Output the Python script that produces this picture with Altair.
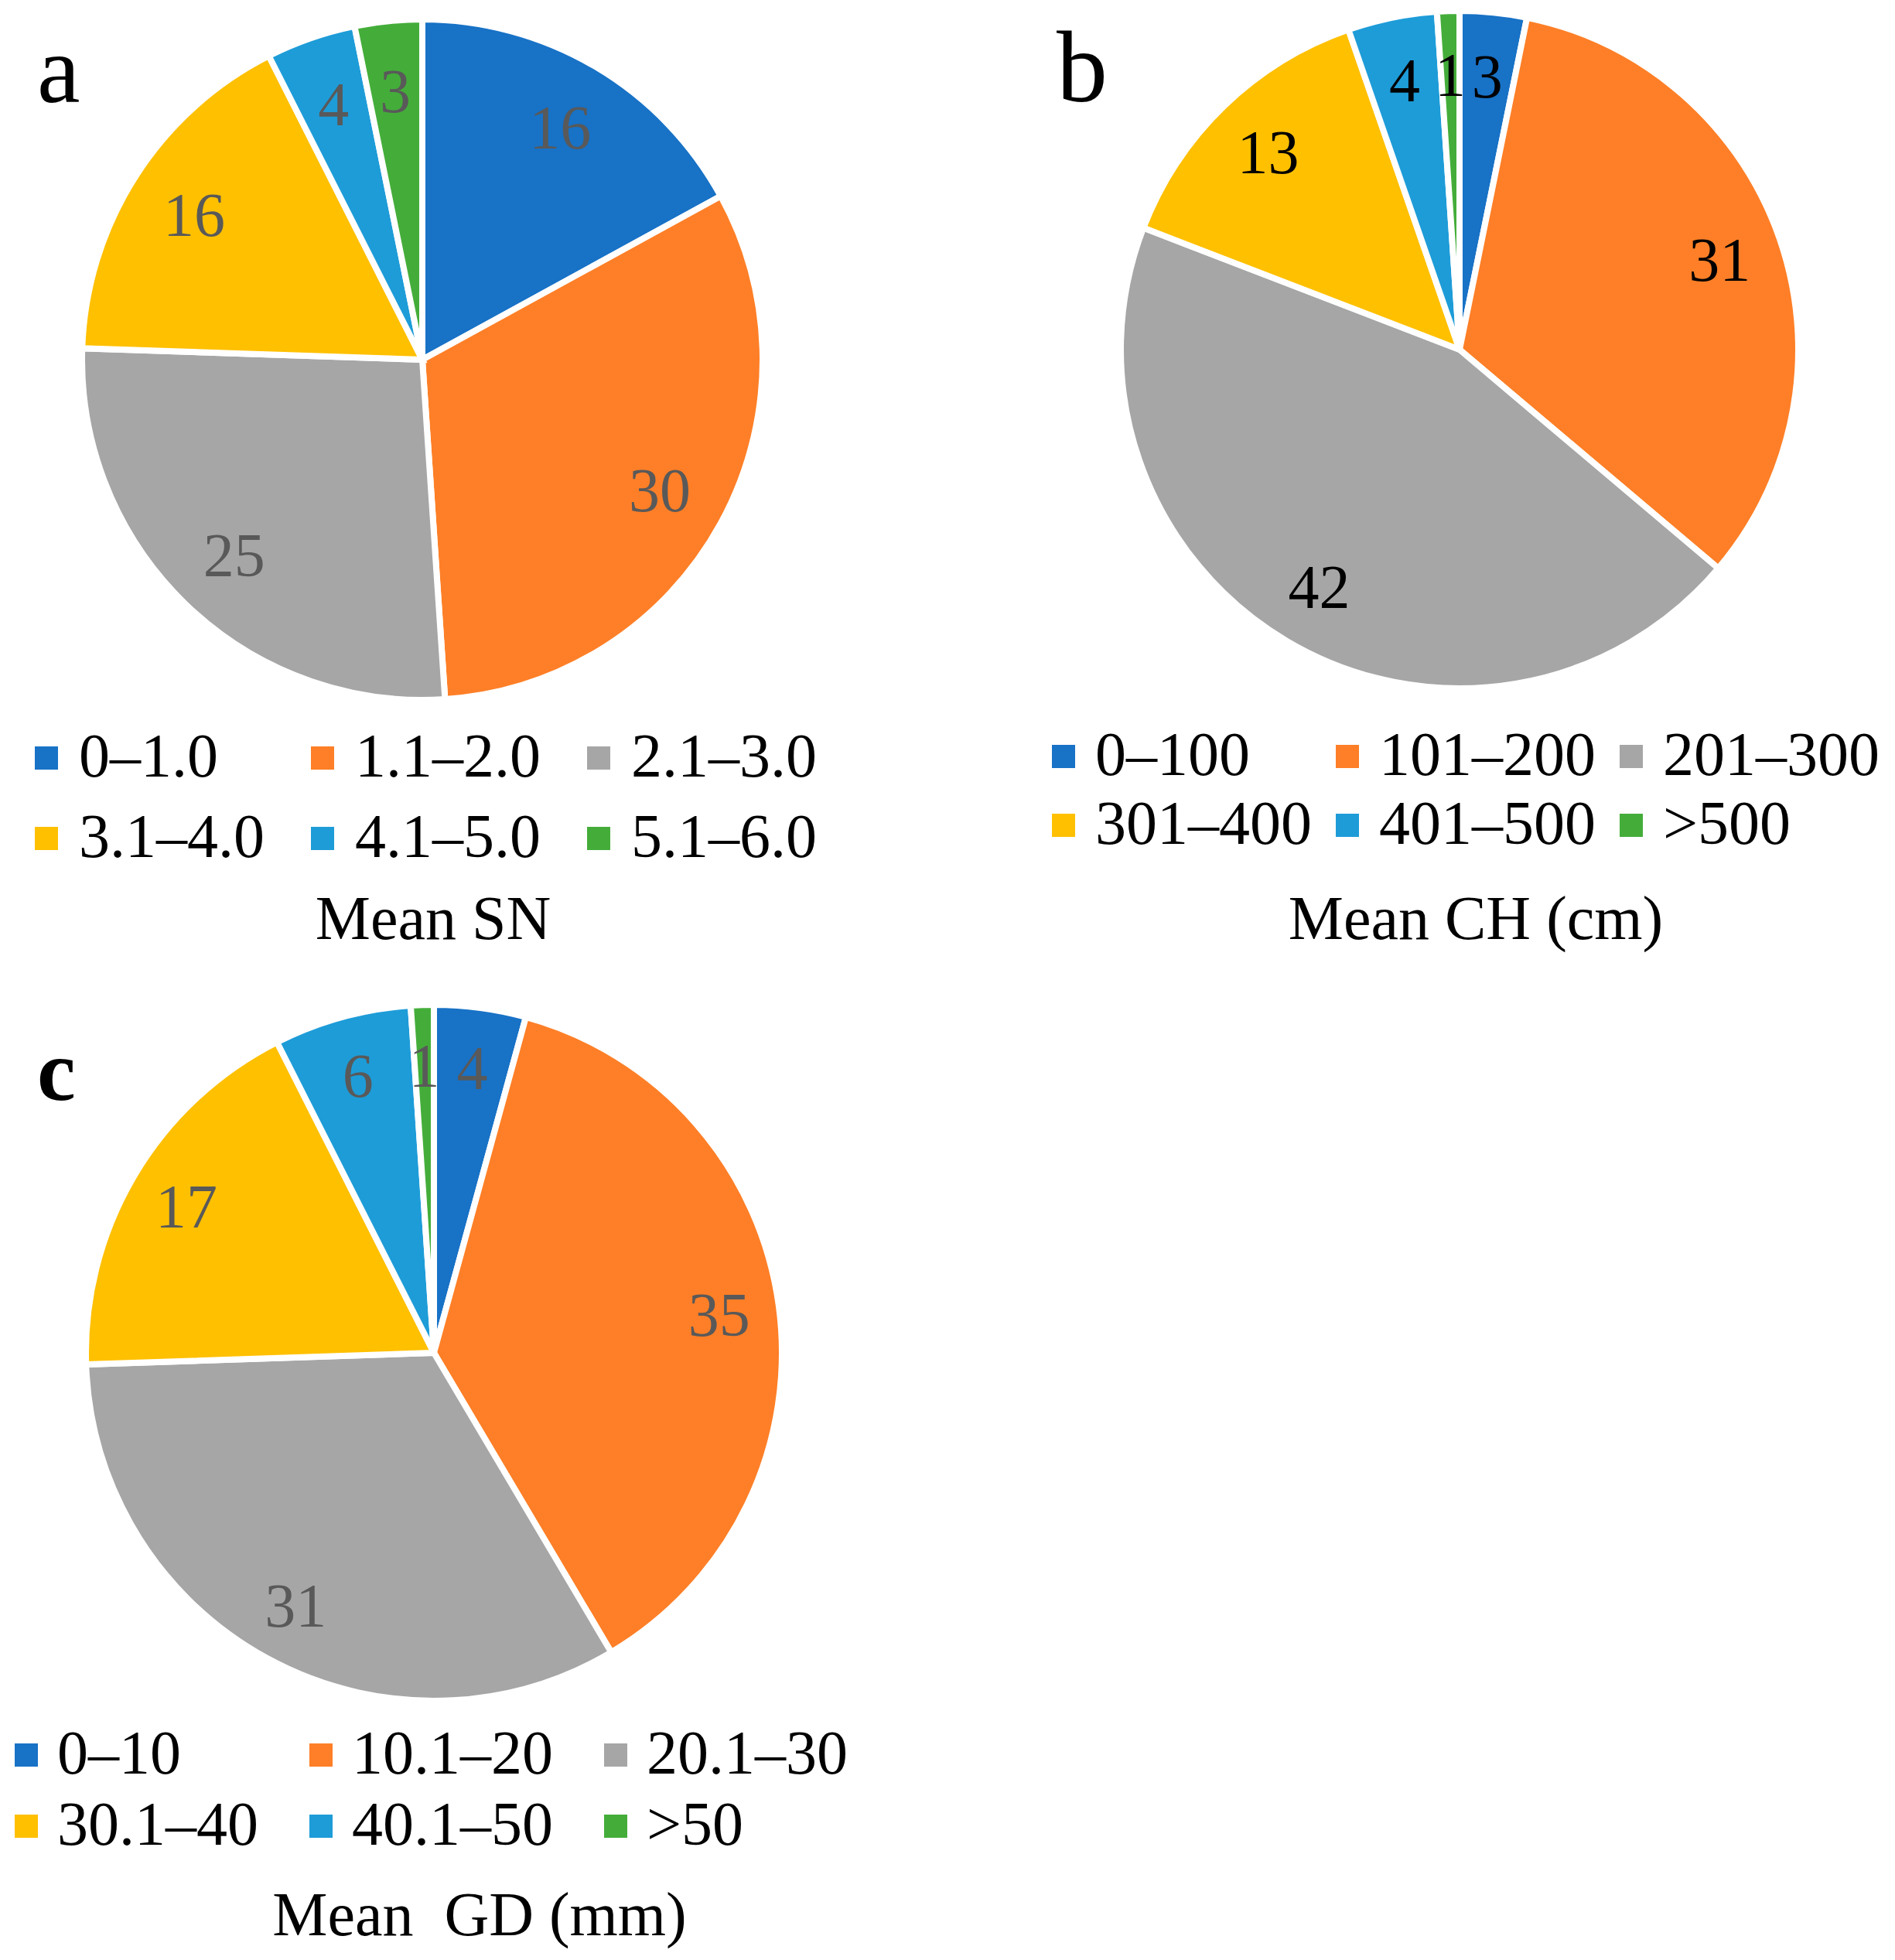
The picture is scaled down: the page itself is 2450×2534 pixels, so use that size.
import altair as alt
import pandas as pd

colors = ["#1872C6", "#FE7F27", "#A6A6A6", "#FFC000", "#1E9CD8", "#44AD3A"]

a_cats = ["0–1.0", "1.1–2.0", "2.1–3.0", "3.1–4.0", "4.1–5.0", "5.1–6.0"]
a_vals = [16, 30, 25, 16, 4, 3]
b_cats = ["0–100", "101–200", "201–300", "301–400", "401–500", ">500"]
b_vals = [3, 31, 42, 13, 4, 1]
c_cats = ["0–10", "10.1–20", "20.1–30", "30.1–40", "40.1–50", ">50"]
c_vals = [4, 35, 31, 17, 6, 1]
panel_letters = ["a", "b", "c"]
panel_titles = ["Mean SN", "Mean CH (cm)", "Mean\u00a0 GD (mm)"]

FONT = "Liberation Serif"
FS = 80


def pie(cats, vals, cx, cy, r, label_r, label_color, lx, ly, off, colpad, rowpad):
    df = pd.DataFrame({"cat": cats, "v": vals, "i": list(range(len(cats)))})
    base = alt.Chart(df).encode(
        theta=alt.Theta("v:Q", stack=True),
        order=alt.Order("i:Q"),
    )
    arc = base.mark_arc(outerRadius=r + 4, stroke="white", strokeWidth=8).encode(
        x=alt.value(cx),
        y=alt.value(cy),
        color=alt.Color(
            "cat:N",
            scale=alt.Scale(domain=cats, range=colors),
            legend=alt.Legend(
                title=None,
                orient="none",
                direction="horizontal",
                legendX=lx,
                legendY=ly,
                columns=3,
                symbolType="square",
                symbolSize=900,
                symbolStrokeWidth=0,
                symbolOpacity=1,
                labelFont=FONT,
                labelFontSize=FS,
                labelColor="black",
                labelLimit=0,
                labelOffset=off,
                columnPadding=colpad,
                rowPadding=rowpad,
                padding=0,
                gridAlign="all",
            ),
        ),
    )
    text = base.mark_text(
        radius=label_r, font=FONT, fontSize=FS, color=label_color, baseline="middle", dy=4
    ).encode(x=alt.value(cx), y=alt.value(cy), text="v:Q")
    return arc, text


def label(t, x, y, size, weight="normal", align="left"):
    return alt.Chart(pd.DataFrame({"t": [t]})).mark_text(
        font=FONT, fontSize=size, fontWeight=weight, align=align,
        baseline="alphabetic", color="black"
    ).encode(text="t:N", x=alt.value(x), y=alt.value(y))


a_arc, a_txt = pie(a_cats, a_vals, 538, 457, 436, 350, "#595959", 12, 932, 2, 35, 24)
b_arc, b_txt = pie(b_cats, b_vals, 1879, 444, 434, 356, "black", 1327, 930, 1, 6, 9)
c_arc, c_txt = pie(c_cats, c_vals, 553, 1741, 446, 372, "#595959", -14, 2221, 0, 41, 12)

layers = [
    a_arc, a_txt, b_arc, b_txt, c_arc, c_txt,
    label(panel_letters[0], 40, 124, 125),
    label(panel_letters[1], 1358, 123, 132),
    label(panel_letters[2], 40, 1414, 112, "bold"),
    label(panel_titles[0], 552, 1206, FS, align="center"),
    label(panel_titles[1], 1900, 1206, FS, align="center"),
    label(panel_titles[2], 612, 2494, FS, align="center"),
]

chart = (
    alt.layer(*layers)
    .resolve_scale(theta="independent", color="independent")
    .properties(width=2434, height=2518, autosize=alt.AutoSizeParams(type="none"), padding=0)
    .configure_view(strokeWidth=0)
)

chart.save("out.html", embed_options={"renderer": "svg", "actions": False})
